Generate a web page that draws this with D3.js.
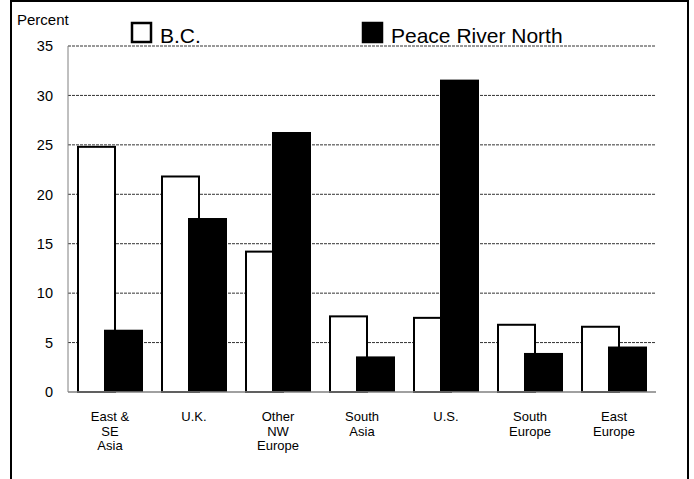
<!DOCTYPE html>
<html><head><meta charset="utf-8">
<script src="https://cdn.jsdelivr.net/npm/d3@7/dist/d3.min.js"></script>
<style>body{margin:0;background:#fff}svg{display:block;font-family:"Liberation Sans",Arial,sans-serif}</style>
</head><body>
<script>
const categories = [["East &","SE","Asia"],["U.K."],["Other","NW","Europe"],["South","Asia"],["U.S."],["South","Europe"],["East","Europe"]];
const catKeys = categories.map(c => c.join(" "));
const bcValues = [24.8, 21.8, 14.2, 7.65, 7.5, 6.8, 6.6];
const prnValues = [6.3, 17.6, 26.3, 3.6, 31.6, 3.95, 4.6];
const yTicks = [0, 5, 10, 15, 20, 25, 30, 35];
const seriesNames = ["B.C.", "Peace River North"];

const W = 694, H = 479;
const svg = d3.select("body").append("svg").attr("width", W).attr("height", H);

// frame
svg.append("rect").attr("x", 11).attr("y", 1).attr("width", 677).attr("height", 500)
  .attr("fill", "none").attr("stroke", "#000").attr("stroke-width", 2);

const x = d3.scaleBand().domain(catKeys).range([68, 656]).paddingInner(0).paddingOuter(0);
const y = d3.scaleLinear().domain([0, 35]).range([392, 46]);

// gridlines
svg.append("g").selectAll("line").data(yTicks.filter(t => t > 0)).join("line")
  .attr("x1", 68).attr("x2", 656).attr("y1", d => y(d)).attr("y2", d => y(d))
  .attr("stroke", "#333").attr("stroke-width", 1).attr("stroke-dasharray", "3,1");

// y axis line
svg.append("line").attr("x1", 68).attr("x2", 68).attr("y1", y(35)).attr("y2", y(0))
  .attr("stroke", "#808080").attr("stroke-width", 1);

// tick labels
svg.append("g").selectAll("text").data(yTicks).join("text")
  .attr("x", 53).attr("y", d => y(d)).attr("dy", "0.36em").attr("text-anchor", "end")
  .attr("font-size", 14.5).text(d => d);

svg.append("text").attr("x", 17).attr("y", 25).attr("font-size", 15).text("Percent");

const bw = 39, off = 27;
const pad = (x.bandwidth() - (off + bw)) / 2;

// BC bars
svg.append("g").selectAll("rect").data(bcValues).join("rect")
  .attr("x", (d, i) => x(catKeys[i]) + pad + 1).attr("y", d => y(d))
  .attr("width", bw - 2).attr("height", d => y(0) - y(d))
  .attr("fill", "#fff").attr("stroke", "#000").attr("stroke-width", 2);

// PRN bars
svg.append("g").selectAll("rect").data(prnValues).join("rect")
  .attr("x", (d, i) => x(catKeys[i]) + pad + off).attr("y", d => y(d))
  .attr("width", bw).attr("height", d => y(0) - y(d))
  .attr("fill", "#000");

// baseline
svg.append("line").attr("x1", 68).attr("x2", 656).attr("y1", y(0)).attr("y2", y(0))
  .attr("stroke", "#808080").attr("stroke-width", 1.5);

// category labels
const cl = svg.append("g").selectAll("text").data(categories).join("text")
  .attr("text-anchor", "middle").attr("font-size", 13)
  .attr("transform", (d, i) => `translate(${x(catKeys[i]) + x.bandwidth() / 2},421)`);
cl.selectAll("tspan").data(d => d).join("tspan")
  .attr("x", 0).attr("dy", (d, i) => i === 0 ? 0 : 14.5).text(d => d);

// legend
const lg = [{x: 131, fill: "#fff"}, {x: 362, fill: "#000"}];
lg.forEach((l, i) => {
  svg.append("rect").attr("x", l.x + 1).attr("y", 23).attr("width", 19).attr("height", 19)
    .attr("fill", l.fill).attr("stroke", "#000").attr("stroke-width", 2.5);
  svg.append("text").attr("x", l.x + 29).attr("y", 43).attr("font-size", 21).text(seriesNames[i]);
});
</script>
</body></html>
